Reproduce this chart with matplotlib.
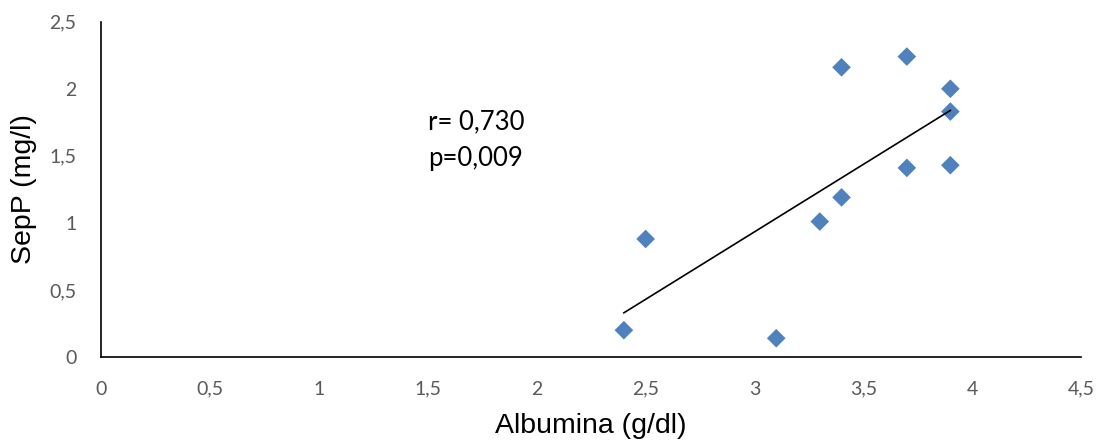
"""Scatter of SepP vs Albumina with linear trend line."""

import matplotlib
matplotlib.use("Agg")
import matplotlib.pyplot as plt
import numpy as np

albumina = [2.4, 2.5, 3.1, 3.3, 3.4, 3.4, 3.7, 3.7, 3.9, 3.9, 3.9]
sepp = [0.20, 0.88, 0.14, 1.01, 1.19, 2.16, 2.24, 1.41, 2.00, 1.83, 1.43]

x_ticks = [0, 0.5, 1, 1.5, 2, 2.5, 3, 3.5, 4, 4.5]
y_ticks = [0, 0.5, 1, 1.5, 2, 2.5]


def fmt(v):
    return f"{v:g}".replace(".", ",")


def main():
    fig = plt.figure(figsize=(11.02, 4.43), dpi=100)
    ax = fig.add_axes([0.0921, 0.1941, 0.8888, 0.7569])

    ax.scatter(albumina, sepp, marker="D", s=90, color="#4F81BD",
               edgecolors="none", zorder=2)

    # least-squares trend line over the data range
    slope, icpt = np.polyfit(albumina, sepp, 1)
    xs = np.array([min(albumina), max(albumina)])
    ax.plot(xs, slope * xs + icpt, color="black", lw=1.2, zorder=3)

    ax.set_xlim(0, 4.5)
    ax.set_ylim(0, 2.5)
    ax.set_xticks(x_ticks)
    ax.set_yticks(y_ticks)
    ax.set_xticklabels([fmt(v) for v in x_ticks], family="Lato", fontsize=14, color="#595959")
    ax.set_yticklabels([fmt(v) for v in y_ticks], family="Lato", fontsize=14, color="#595959")
    ax.tick_params(axis="both", length=0)
    ax.tick_params(axis="x", pad=17)
    ax.tick_params(axis="y", pad=18)

    for s in ["top", "right"]:
        ax.spines[s].set_visible(False)
    for s in ["left", "bottom"]:
        ax.spines[s].set_color("black")
        ax.spines[s].set_linewidth(1.2)

    ax.set_xlabel("Albumina (g/dl)", family="Liberation Sans", fontsize=20.5, labelpad=11)
    ax.set_ylabel("SepP (mg/l)", family="Liberation Sans", fontsize=20.5, labelpad=9)

    ax.text(1.50, 1.75, "r= 0,730", family="Lato", fontsize=18.5, va="center")
    ax.text(1.50, 1.48, "p=0,009", family="Lato", fontsize=18.5, va="center")

    fig.savefig("out.png", dpi=100)
    plt.close(fig)


if __name__ == "__main__":
    main()
